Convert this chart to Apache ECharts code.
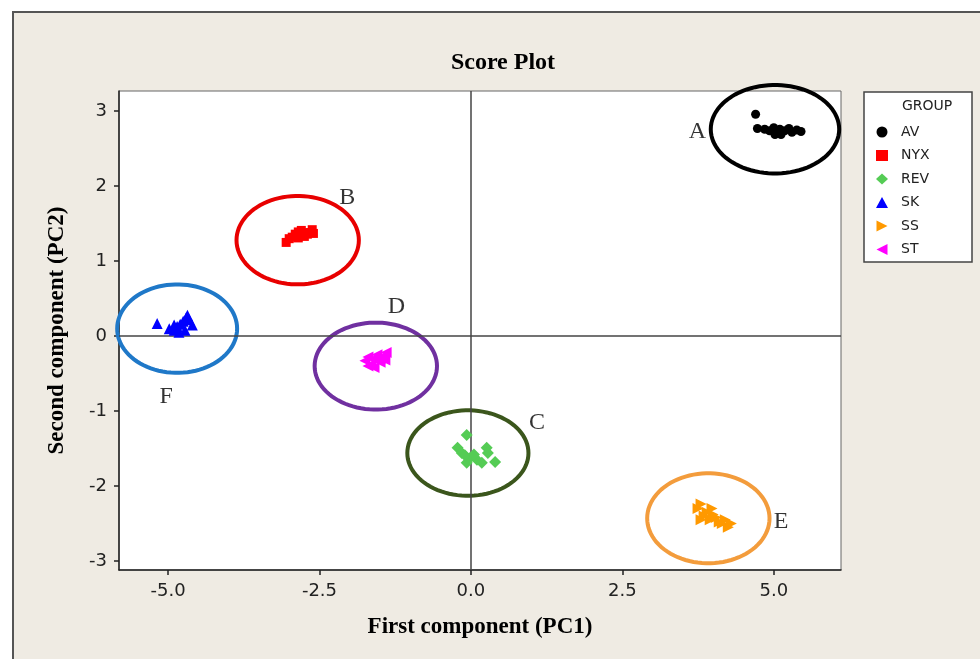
<!DOCTYPE html>
<html><head><meta charset="utf-8">
<script src="https://cdn.jsdelivr.net/npm/echarts@6/dist/echarts.min.js"></script>
<style>html,body{margin:0;padding:0;background:#fff}#c{width:980px;height:659px}</style>
</head><body><div id="c"></div>
<script>
const groups = ['AV', 'NYX', 'REV', 'SK', 'SS', 'ST'];
const groupColors = ['#000000', '#ff0000', '#55cc55', '#0000ff', '#ff9900', '#ff00ff'];
const groupSymbols = ['circle', 'rect', 'diamond', 'triangle', 'path://M0,0 L10,5 L0,10 Z', 'path://M10,0 L0,5 L10,10 Z'];
const groupSizes = [9, 9, 12, 11, 11, 11];

const avPoints = [[4.70,2.96],[4.73,2.77],[4.85,2.76],[4.93,2.74],[5.00,2.78],[5.05,2.72],[5.10,2.76],[5.12,2.69],[5.18,2.74],[5.25,2.77],[5.30,2.72],[5.38,2.75],[5.45,2.73],[5.02,2.69]];
const nyxPoints = [[-3.05,1.25],[-3.00,1.30],[-2.95,1.32],[-2.90,1.36],[-2.85,1.39],[-2.80,1.41],[-2.75,1.38],[-2.70,1.36],[-2.65,1.38],[-2.60,1.37],[-2.85,1.31],[-2.75,1.33],[-2.62,1.42]];
const revPoints = [[-0.07,-1.32],[-0.22,-1.49],[-0.15,-1.56],[-0.02,-1.63],[0.10,-1.65],[0.26,-1.49],[0.18,-1.69],[0.40,-1.68],[-0.07,-1.69],[0.28,-1.56],[-0.10,-1.59],[0.05,-1.58]];
const skPoints = [[-5.18,0.17],[-4.98,0.10],[-4.90,0.08],[-4.85,0.13],[-4.80,0.16],[-4.75,0.20],[-4.70,0.25],[-4.65,0.22],[-4.60,0.15],[-4.72,0.08],[-4.82,0.05],[-4.68,0.28],[-4.90,0.15]];
const ssPoints = [[3.75,-2.30],[3.80,-2.24],[3.85,-2.40],[3.90,-2.35],[3.95,-2.45],[4.00,-2.38],[4.05,-2.42],[4.10,-2.48],[4.15,-2.50],[4.20,-2.45],[4.25,-2.55],[4.30,-2.50],[3.80,-2.45],[3.98,-2.30]];
const stPoints = [[-1.75,-0.33],[-1.70,-0.28],[-1.65,-0.38],[-1.60,-0.30],[-1.55,-0.25],[-1.50,-0.35],[-1.45,-0.27],[-1.40,-0.22],[-1.60,-0.42],[-1.70,-0.40],[-1.50,-0.30],[-1.42,-0.32]];
const groupPoints = [avPoints, nyxPoints, revPoints, skPoints, ssPoints, stPoints];

// cluster ellipses: [centerX, centerY, radiusX, radiusY]
const clusterNames = ['A', 'B', 'C', 'D', 'E', 'F'];
const clusterEllipses = [[5.02,2.76,1.06,0.59],[-2.86,1.28,1.01,0.59],[-0.05,-1.56,1.00,0.57],[-1.57,-0.40,1.01,0.58],[3.92,-2.43,1.01,0.60],[-4.85,0.10,0.99,0.59]];
const clusterColors = ['#000000', '#e80000', '#3b561c', '#7030a0', '#f39c3c', '#1f78c8'];
const clusterLabelPos = [[3.74,2.73],[-2.04,1.85],[1.09,-1.15],[-1.23,0.39],[5.12,-2.47],[-5.03,-0.81]];

const xTicks = [-5, -2.5, 0, 2.5, 5];
const yTicks = [-3, -2, -1, 0, 1, 2, 3];

const chart = echarts.init(document.getElementById('c'), null, {renderer: 'canvas'});

const series = [];
series.push({
  type: 'custom', name: 'ellipses', silent: true, z: 3,
  data: clusterEllipses,
  renderItem: function (params, api) {
    const cx = api.value(0), cy = api.value(1), rx = api.value(2), ry = api.value(3);
    const pts = [];
    for (let i = 0; i <= 90; i++) {
      const t = i / 90 * Math.PI * 2;
      pts.push(api.coord([cx + rx * Math.cos(t), cy + ry * Math.sin(t)]));
    }
    return {type: 'polygon', shape: {points: pts}, style: {fill: 'none', stroke: clusterColors[params.dataIndex], lineWidth: 4}};
  },
  markLine: {
    silent: true, symbol: 'none', animation: false,
    label: {show: false},
    lineStyle: {color: '#444', width: 1.5, type: 'solid'},
    data: [{xAxis: 0}, {yAxis: 0}]
  }
});
groups.forEach((g, i) => {
  series.push({
    type: 'scatter', name: g, data: groupPoints[i], z: 5,
    symbol: groupSymbols[i], symbolSize: groupSizes[i],
    itemStyle: {color: groupColors[i], opacity: 1}
  });
});
series.push({
  type: 'scatter', name: 'labels', silent: true, symbolSize: 0,
  data: clusterLabelPos.map((p, i) => ({value: p, name: clusterNames[i]})),
  label: {show: true, position: 'inside', formatter: '{b}', color: '#000', textBorderWidth: 0, fontFamily: 'Liberation Serif', fontSize: 24}
});

chart.setOption({
  animation: false,
  backgroundColor: 'transparent',
  graphic: [
    {type: 'rect', z: -100, shape: {x: 13, y: 12, width: 1000, height: 700}, style: {fill: '#efebe3', stroke: '#555', lineWidth: 2}},
    {type: 'rect', z: 1, shape: {x: 864, y: 92, width: 108, height: 170}, style: {fill: '#fff', stroke: '#444', lineWidth: 1.5}},
    {type: 'text', z: 5, left: 902, top: 99, style: {text: 'GROUP', fill: '#222', font: '14px "DejaVu Sans"'}}
  ],
  title: {
    text: 'Score Plot', left: 498, top: 46, textAlign: 'center',
    textStyle: {fontFamily: 'Liberation Serif', fontWeight: 'bold', fontSize: 24, color: '#000'}
  },
  legend: {
    data: groups, orient: 'vertical', left: 876, top: 124,
    itemWidth: 12, itemHeight: 11, itemGap: 7.5, padding: 0,
    textStyle: {fontFamily: 'DejaVu Sans', fontSize: 14, color: '#222', lineHeight: 16, padding: [0, 0, 0, 8]}
  },
  grid: {left: 119, right: 139, top: 91, bottom: 89, show: true, backgroundColor: '#fff', borderColor: '#666', borderWidth: 1},
  xAxis: {
    type: 'value', min: -5.81, max: 6.11,
    name: 'First component (PC1)', nameLocation: 'middle', nameGap: 46,
    nameTextStyle: {fontFamily: 'Liberation Serif', fontWeight: 'bold', fontSize: 23, color: '#000'},
    axisLine: {show: true, onZero: false, lineStyle: {color: '#222', width: 1.5}},
    axisTick: {show: true, length: 5, customValues: xTicks, lineStyle: {color: '#222', width: 1.5}},
    axisLabel: {customValues: xTicks, margin: 12, formatter: v => v.toFixed(1), fontFamily: 'DejaVu Sans', fontSize: 18, color: '#222'},
    splitLine: {show: false}
  },
  yAxis: {
    type: 'value', min: -3.12, max: 3.27,
    name: 'Second component (PC2)', nameLocation: 'middle', nameGap: 50,
    nameTextStyle: {fontFamily: 'Liberation Serif', fontWeight: 'bold', fontSize: 23, color: '#000'},
    axisLine: {show: true, onZero: false, lineStyle: {color: '#222', width: 1.5}},
    axisTick: {show: true, length: 5, customValues: yTicks, lineStyle: {color: '#222', width: 1.5}},
    axisLabel: {customValues: yTicks, margin: 12, fontFamily: 'DejaVu Sans', fontSize: 18, color: '#222'},
    splitLine: {show: false}
  },
  series: series
});
</script></body></html>
